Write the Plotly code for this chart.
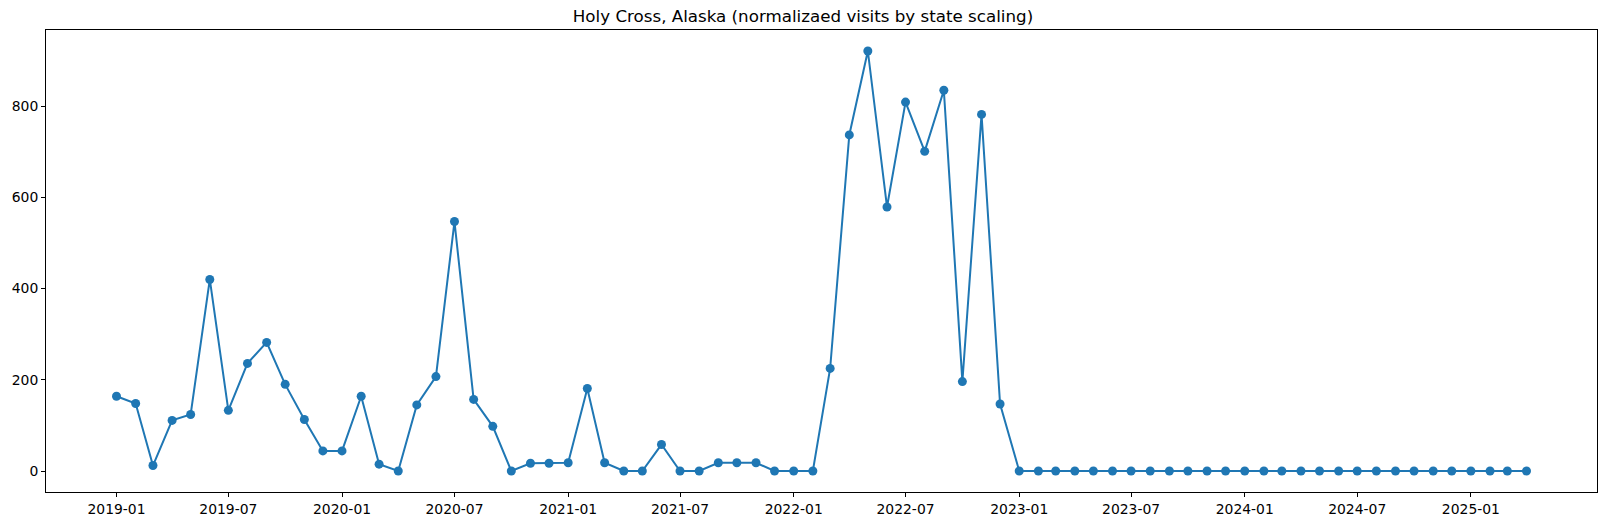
import pandas as pd
import plotly.graph_objects as go

# valores mensais (jan/2019 a abr/2025)
meses = pd.date_range("2019-01-01", "2025-04-01", freq="MS")
visitas = [
    164, 148, 12, 111, 124, 420, 133, 236, 282, 190, 113, 44,
    44, 164, 15, 0, 145, 207, 547, 157, 98, 0, 17, 17,
    18, 181, 18, 0, 0, 58, 0, 0, 18, 18, 18, 0,
    0, 0, 225, 737, 921, 579, 809, 701, 835, 196, 782, 147,
] + [0] * 28

tick_datas = pd.date_range("2019-01-01", "2025-01-01", freq="6MS")
tick_labels = [d.strftime("%Y-%m") for d in tick_datas]

span = meses[-1] - meses[0]
x_range = [meses[0] - span * 0.05, meses[-1] + span * 0.05]
y_pad = (max(visitas) - min(visitas)) * 0.05
y_range = [min(visitas) - y_pad, max(visitas) + y_pad]

fig = go.Figure()

fig.add_trace(go.Scatter(
    x=meses, y=visitas,
    mode='lines+markers',
    line=dict(color='#1f77b4', width=2),
    marker=dict(size=9, color='#1f77b4'),
    showlegend=False
))

eixo = dict(
    showline=True, mirror=True, linecolor='black', linewidth=1,
    ticks='outside', ticklen=4, tickcolor='black',
    showgrid=False, zeroline=False,
    tickfont=dict(family='DejaVu Sans', size=13.9, color='black')
)

fig.update_layout(
    width=1606, height=526,
    title=dict(text='Holy Cross, Alaska (normalizaed visits by state scaling)',
               x=0.5, xanchor='center', y=1 - 16 / 526, yanchor='middle',
               font=dict(family='DejaVu Sans', size=16.7, color='black')),
    xaxis=dict(eixo, range=x_range, tickvals=tick_datas, ticktext=tick_labels),
    yaxis=dict(eixo, range=y_range, tickvals=[0, 200, 400, 600, 800]),
    plot_bgcolor='white', paper_bgcolor='white',
    margin=dict(l=46, r=9, t=30, b=34)
)

# sem a margem padrão do body o gráfico ocupa a janela inteira
fig.write_html("out.html", config={'displayModeBar': False},
               post_script="document.body.style.margin='0';")
